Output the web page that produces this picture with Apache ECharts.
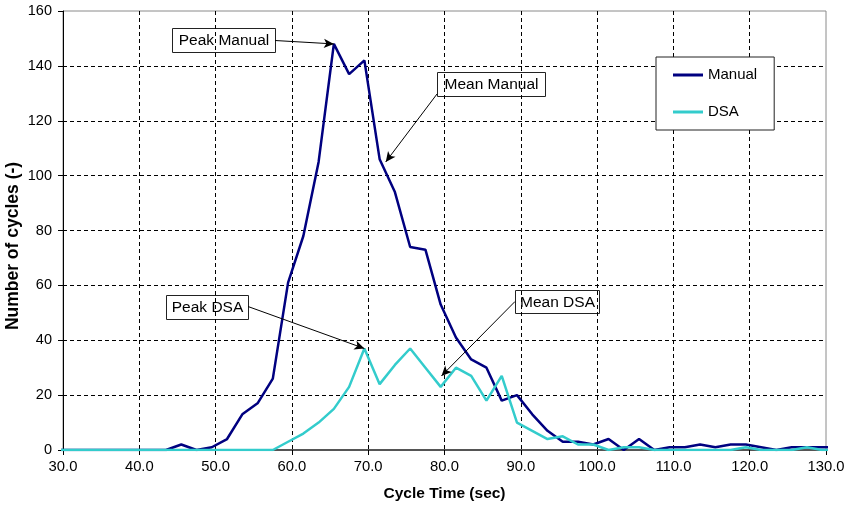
<!DOCTYPE html>
<html>
<head>
<meta charset="utf-8">
<script src="https://cdn.jsdelivr.net/npm/echarts@6/dist/echarts.min.js"></script>
<style>
  html, body { margin: 0; padding: 0; background: #fff; }
  #chart { width: 847px; height: 507px; }
</style>
</head>
<body>
<div id="chart"></div>
<script>
// Cycle time bins (sec), centre of each 2-second bin
const cycleTime = [29.5, 31.5, 33.5, 35.5, 37.5, 39.5, 41.5, 43.5, 45.5, 47.5,
  49.5, 51.5, 53.5, 55.5, 57.5, 59.5, 61.5, 63.5, 65.5, 67.5,
  69.5, 71.5, 73.5, 75.5, 77.5, 79.5, 81.5, 83.5, 85.5, 87.5,
  89.5, 91.5, 93.5, 95.5, 97.5, 99.5, 101.5, 103.5, 105.5, 107.5,
  109.5, 111.5, 113.5, 115.5, 117.5, 119.5, 121.5, 123.5, 125.5, 127.5,
  129.5, 131.5];

// Number of cycles per bin
const manualCycles = [0, 0, 0, 0, 0, 0, 0, 0, 2, 0,
  1, 4, 13, 17, 26, 61, 78, 105, 148, 137,
  142, 106, 94, 74, 73, 53, 41, 33, 30, 18,
  20, 13, 7, 3, 3, 2, 4, 0, 4, 0,
  1, 1, 2, 1, 2, 2, 1, 0, 1, 1,
  1, 1];

const dsaCycles = [0, 0, 0, 0, 0, 0, 0, 0, 0, 0,
  0, 0, 0, 0, 0, 3, 6, 10, 15, 23,
  37, 24, 31, 37, 30, 23, 30, 27, 18, 27,
  10, 7, 4, 5, 2, 2, 0, 1, 1, 0,
  0, 0, 0, 0, 0, 1, 0, 0, 0, 1,
  0, 0];

const seriesNames = ['Manual', 'DSA'];
const xTickValues = [30, 40, 50, 60, 70, 80, 90, 100, 110, 120, 130];
const yTickValues = [0, 20, 40, 60, 80, 100, 120, 140, 160];
const yAxisTitle = 'Number of cycles (-)';

// Annotation callouts: label text and the data point each arrow points at
const calloutText = ['Peak Manual', 'Mean Manual', 'Peak DSA', 'Mean DSA'];
const calloutTarget = [[65.5, 148], [72.3, 105], [69.5, 37], [79.6, 27]];

const FONT = '"Liberation Sans", Arial, Helvetica, sans-serif';

const pairs = (ys) => cycleTime.map((t, i) => [t, ys[i]]);

// Callout boxes (pixel layout) and where each arrow leaves its box
const boxes = [
  { x: 172, y: 28, w: 103, h: 24, sx: 275, sy: 40.5 },
  { x: 437, y: 72, w: 108, h: 24, sx: 437, sy: 94 },
  { x: 166, y: 295, w: 82, h: 24, sx: 248, sy: 306.5 },
  { x: 515, y: 290, w: 84, h: 23, sx: 515, sy: 301.5 }
];

const arrowData = boxes.map((b, i) => [
  { x: b.sx, y: b.sy },
  { coord: calloutTarget[i] }
]);

const boxGraphics = boxes.map((b, i) => ({
  type: 'group',
  z: 100,
  children: [
    {
      type: 'rect',
      shape: { x: b.x + 0.5, y: b.y + 0.5, width: b.w, height: b.h },
      style: { fill: '#fff', stroke: '#222', lineWidth: 1 }
    },
    {
      type: 'text',
      style: {
        x: b.x + b.w / 2 + 0.5, y: b.y + b.h / 2 + 1,
        text: calloutText[i],
        align: 'center', verticalAlign: 'middle',
        fill: '#000',
        font: '15.5px ' + FONT
      }
    }
  ]
}));

// Vertical title beside the value axis
boxGraphics.push({
  type: 'text',
  x: 13, y: 246,
  rotation: Math.PI / 2,
  z: 100,
  style: {
    text: yAxisTitle,
    align: 'center', verticalAlign: 'middle',
    fill: '#000',
    font: 'bold 17.5px ' + FONT
  }
});

const chart = echarts.init(document.getElementById('chart'), null, { renderer: 'canvas' });

chart.setOption({
  animation: false,
  backgroundColor: '#fff',
  textStyle: { fontFamily: FONT },
  grid: {
    left: 63, right: 21, top: 11, bottom: 57,
    outerBoundsMode: 'none',
    containLabel: false,
    show: true, borderColor: '#8a8a8a', borderWidth: 1, backgroundColor: 'transparent'
  },
  legend: {
    data: seriesNames,
    orient: 'vertical',
    left: 656, top: 57,
    padding: [10, 17, 10, 17],
    itemGap: 21,
    itemWidth: 30, itemHeight: 3,
    icon: 'rect',
    backgroundColor: '#fff',
    borderColor: '#222', borderWidth: 1,
    textStyle: { fontSize: 15, color: '#000', fontFamily: FONT, lineHeight: 16 }
  },
  xAxis: {
    type: 'value',
    min: xTickValues[0], max: xTickValues[xTickValues.length - 1], interval: 10,
    name: 'Cycle Time (sec)',
    nameLocation: 'middle', nameGap: 36,
    nameTextStyle: { fontSize: 15.5, fontWeight: 'bold', color: '#000', fontFamily: FONT },
    axisLine: { show: true, onZero: false, lineStyle: { color: '#555', width: 2 } },
    axisTick: { show: true, length: 5, lineStyle: { color: '#000' } },
    axisLabel: { margin: 9, fontSize: 14.8, color: '#000', formatter: (v) => v.toFixed(1) },
    splitLine: { show: true, showMinLine: false, showMaxLine: false, lineStyle: { color: '#000', type: [4, 3], width: 1 } }
  },
  yAxis: {
    type: 'value',
    min: yTickValues[0], max: yTickValues[yTickValues.length - 1], interval: 20,
    axisLine: { show: true, lineStyle: { color: '#000', width: 1 } },
    axisTick: { show: true, length: 5, lineStyle: { color: '#000' } },
    axisLabel: { margin: 11, fontSize: 14.5, color: '#000' },
    splitLine: { show: true, showMinLine: false, showMaxLine: false, lineStyle: { color: '#000', type: [4, 3], width: 1 } }
  },
  series: [
    {
      name: seriesNames[0],
      type: 'line',
      data: pairs(manualCycles),
      showSymbol: false, symbol: 'none',
      color: '#000080',
      lineStyle: { color: '#000080', width: 2.5 },
      clip: true,
      z: 3,
      markLine: {
        silent: true,
        symbol: ['none', 'arrow'],
        symbolSize: [7, 10],
        label: { show: false },
        lineStyle: { color: '#000', width: 1, type: 'solid' },
        emphasis: { disabled: true },
        data: arrowData
      }
    },
    {
      name: seriesNames[1],
      type: 'line',
      data: pairs(dsaCycles),
      showSymbol: false, symbol: 'none',
      color: '#33CCCC',
      lineStyle: { color: '#33CCCC', width: 2.5 },
      clip: true,
      z: 4
    }
  ],
  graphic: boxGraphics
});
</script>
</body>
</html>
